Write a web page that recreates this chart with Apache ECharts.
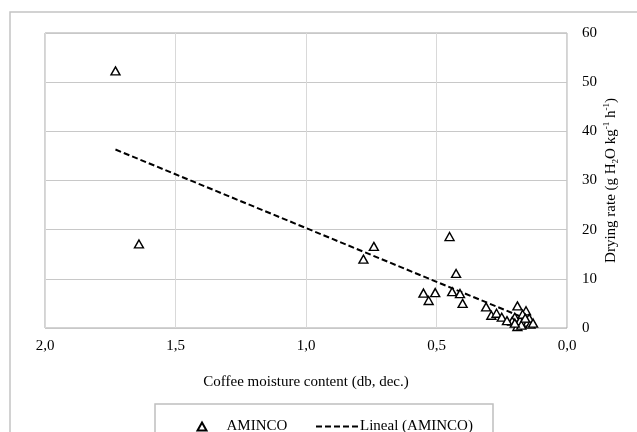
<!DOCTYPE html>
<html>
<head>
<meta charset="utf-8">
<script src="https://cdn.jsdelivr.net/npm/echarts@6/dist/echarts.min.js"></script>
<style>html,body{margin:0;padding:0;background:#fff}#c{width:637px;height:432px}</style>
</head>
<body>
<div id="c"></div>
<script>
// Measured data (AMINCO)
const moisture = [1.73, 1.64, 0.78, 0.74, 0.45, 0.425, 0.55, 0.53, 0.505, 0.44, 0.41, 0.40, 0.31, 0.29, 0.27, 0.25,
  0.19, 0.157, 0.19, 0.20, 0.18, 0.17, 0.165, 0.15, 0.14, 0.21, 0.175, 0.145, 0.20, 0.16, 0.13, 0.23];
const dryingRate = [52.3, 17.1, 14.0, 16.6, 18.6, 11.1, 7.1, 5.6, 7.2, 7.4, 7.0, 5.0, 4.3, 2.6, 3.0, 2.2,
  4.5, 3.5, 0.3, 2.2, 1.5, 2.8, 1.0, 1.2, 0.8, 1.4, 0.6, 2.0, 1.0, 2.0, 1.0, 1.5];
// Linear trend line endpoints
const trendX = [1.73, 0.13];
const trendY = [36.3, 1.3];
const xTicks = [0, 0.5, 1.0, 1.5, 2.0];
const yTicks = [0, 10, 20, 30, 40, 50, 60];

const font = 'Liberation Serif';
const fs = 15;
const chart = echarts.init(document.getElementById('c'), null, {renderer: 'canvas'});
chart.setOption({
  animation: false,
  backgroundColor: '#fff',
  graphic: [
    {type: 'rect', shape: {x: 10, y: 12, width: 700, height: 500},
      style: {fill: 'none', stroke: '#c4c4c4', lineWidth: 1.5}, silent: true, z: -1},
    {type: 'rect', shape: {x: 155, y: 404, width: 338, height: 60},
      style: {fill: 'none', stroke: '#bfbfbf', lineWidth: 1.5}, silent: true, z: -1}
  ],
  grid: {left: 45, right: 70, top: 33, bottom: 104, show: true, borderColor: '#a6a6a6', borderWidth: 1},
  legend: [
    {
      data: ['AMINCO'], left: 196.5, top: 419, padding: 0,
      itemWidth: 9, itemHeight: 8,
      textStyle: {fontFamily: font, fontSize: fs, color: '#000', padding: [0, 0, 0, 15]}
    },
    {
      data: [{name: 'Lineal (AMINCO)', itemStyle: {opacity: 0}}], left: 315, top: 419, padding: 0,
      itemWidth: 43, itemHeight: 8,
      textStyle: {fontFamily: font, fontSize: fs, color: '#000', padding: [0, 0, 0, -4]}
    }
  ],
  xAxis: {
    type: 'value', inverse: true, min: 0, max: 2, interval: 0.5,
    name: 'Coffee moisture content (db, dec.)', nameLocation: 'middle', nameGap: 47,
    nameMoveOverlap: false,
    nameTextStyle: {fontFamily: font, fontSize: fs, color: '#000'},
    axisLine: {show: false}, axisTick: {show: false},
    axisLabel: {fontFamily: font, fontSize: fs, color: '#000', margin: 11,
      formatter: v => xTicks.includes(v) ? v.toFixed(1).replace('.', ',') : ''},
    splitLine: {show: true, lineStyle: {color: '#d9d9d9', width: 1}}
  },
  yAxis: {
    type: 'value', position: 'right', min: 0, max: 60, interval: 10,
    name: '{a|Drying rate (g H}{sub|2}{a|O kg}{sup|-1}{a| h}{sup|-1}{a|)}',
    nameLocation: 'middle', nameGap: 35, nameRotate: 90, nameMoveOverlap: false,
    nameTextStyle: {
      fontFamily: font, fontSize: fs, color: '#000',
      rich: {
        a: {fontFamily: font, fontSize: fs, color: '#000', lineHeight: 18},
        sub: {fontFamily: font, fontSize: 9, color: '#000', lineHeight: 9, verticalAlign: 'bottom'},
        sup: {fontFamily: font, fontSize: 9, color: '#000', lineHeight: 9, verticalAlign: 'top'}
      }
    },
    axisLine: {show: false}, axisTick: {show: false},
    axisLabel: {fontFamily: font, fontSize: fs, color: '#000', margin: 15,
      formatter: v => yTicks.includes(v) ? String(v) : ''},
    splitLine: {show: true, lineStyle: {color: '#c8c8c8', width: 1}}
  },
  series: [
    {
      name: 'Lineal (AMINCO)', type: 'line', symbol: 'none', z: 2,
      data: trendX.map((x, i) => [x, trendY[i]]),
      lineStyle: {color: '#000', width: 2, type: [6, 3]},
      itemStyle: {color: '#000'}
    },
    {
      name: 'AMINCO', type: 'scatter', symbol: 'triangle', symbolSize: [9, 8], z: 3,
      data: moisture.map((x, i) => [x, dryingRate[i]]),
      itemStyle: {color: '#fff', borderColor: '#000', borderWidth: 1.4, opacity: 1}
    }
  ]
});
</script>
</body>
</html>
